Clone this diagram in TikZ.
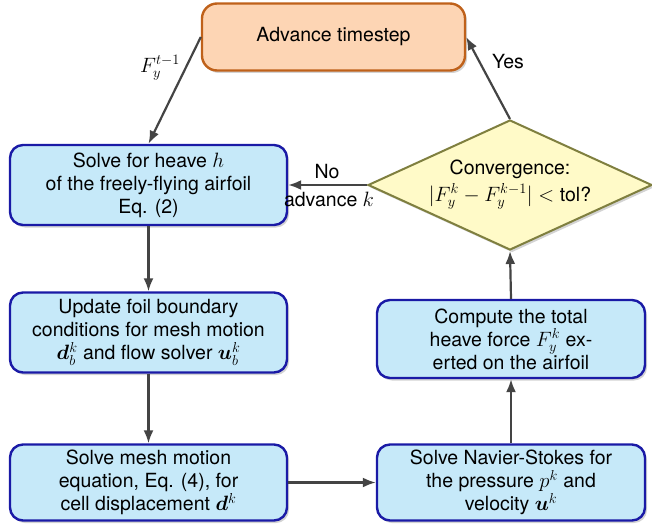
\documentclass[tikz,border=0pt]{standalone}
\usepackage{amsmath,bm}
\usepackage{fontspec}
\setmainfont{TeX Gyre Heros}
\usetikzlibrary{shapes.geometric,shadows,arrows.meta}
\definecolor{bluefill}{HTML}{C6E9F9}
\definecolor{blueline}{HTML}{1A1AA6}
\definecolor{orfill}{HTML}{FDD5B4}
\definecolor{orline}{HTML}{BF611A}
\definecolor{yefill}{HTML}{FFFAC8}
\definecolor{yeline}{HTML}{7F7F3F}
\definecolor{arr}{HTML}{444444}
\begin{document}
\begin{tikzpicture}[x=1pt,y=-1pt,
  font=\fontsize{19.5}{23}\selectfont,
  bluebox/.style={draw=blueline,fill=bluefill,line width=2.4pt,rounded corners=13pt,
    minimum width=277pt,minimum height=80pt,align=center,inner sep=2pt,
    drop shadow={shadow xshift=2pt,shadow yshift=-2.5pt,opacity=0.35}},
  orbox/.style={draw=orline,fill=orfill,line width=2.4pt,rounded corners=15pt,
    minimum width=263pt,minimum height=67pt,align=center,
    drop shadow={shadow xshift=2pt,shadow yshift=-2.5pt,opacity=0.35}},
  decide/.style={diamond,draw=yeline,fill=yefill,line width=2pt,
    minimum width=284pt,minimum height=130pt,inner sep=0pt,
    drop shadow={shadow xshift=2pt,shadow yshift=-2.5pt,opacity=0.35}},
  flow/.style={draw=arr,line width=2.2pt,-{Latex[length=13pt,width=10pt]}},
  lab/.style={inner sep=1pt}
]
\useasboundingbox (0,0) rectangle (652,524);
\node[orbox] (adv) at (333.5,37) {Advance timestep};
\node[bluebox] (s1) at (148.5,185) {Solve for heave $h$\\ of the freely-flying airfoil\\ Eq. (2)};
\node[bluebox] (s2) at (148.5,332.5) {Update foil boundary\\ conditions for mesh motion\\ $\bm{d}_b^k$ and flow solver $\bm{u}_b^k$};
\node[bluebox,minimum width=277pt,minimum height=76pt] (s3) at (148.5,482.5) {Solve mesh motion\\ equation, Eq. (4), for\\ cell displacement $\bm{d}^k$};
\node[bluebox,minimum width=268pt,minimum height=76pt] (s4) at (511,482.5) {Solve Navier-Stokes for\\ the pressure $p^k$ and\\ velocity $\bm{u}^k$};
\node[bluebox,minimum width=268pt,minimum height=78pt] (s5) at (511,339) {Compute the total\\ heave force $F_y^k$ ex-\\ erted on the airfoil};
\node[decide] (conv) at (510,185) {\smash{\makebox[0pt]{\raisebox{-0.2em}{\begin{tabular}{@{}c@{}}Convergence:\\[3pt] $|F_y^k - F_y^{k-1}| < \text{tol?}$\end{tabular}}}}};
\draw[flow] (adv.west) -- (s1.north);
\draw[flow] (conv.north) -- (adv.east);
\draw[flow] (conv.west) -- (s1.east);
\draw[flow] (s1.south) -- (s2.north);
\draw[flow] (s2.south) -- (s3.north);
\draw[flow] (s3.east) -- (s4.west);
\draw[flow] (s4.north) -- (s5.south);
\draw[flow] (s5.north) -- (conv.south);
\node[lab] (lf) at (160,68) {$F_y^{t-1}$};
\node[lab] (lyes) at (508,62) {Yes};
\node[lab] (lno) at (327,172) {No};
\node[lab] (ladv) at (329,199) {advance $k$};
\end{tikzpicture}
\end{document}
